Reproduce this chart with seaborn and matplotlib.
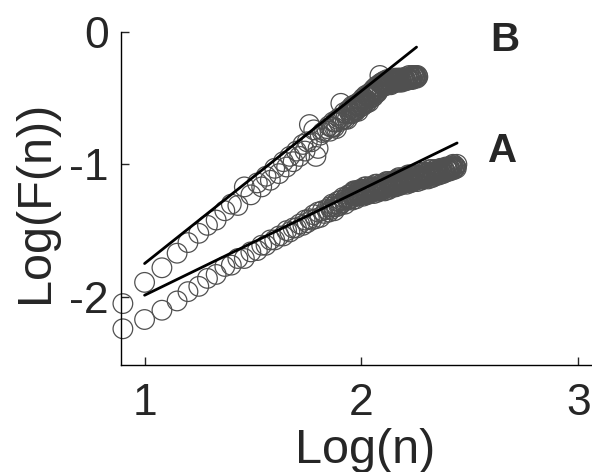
import matplotlib
matplotlib.use("Agg")
import matplotlib.pyplot as plt
import seaborn as sns

####################################################################################
## data (log10 of window size n, log10 of fluctuation F(n))
####################################################################################
log_n = [0.90, 1.00, 1.08, 1.15, 1.20, 1.25, 1.29, 1.33, 1.37, 1.40,
         1.43, 1.46, 1.49, 1.52, 1.54, 1.56, 1.58, 1.60, 1.62, 1.64,
         1.655, 1.67, 1.685, 1.70, 1.715, 1.73, 1.74, 1.75, 1.76, 1.77,
         1.78, 1.79, 1.80, 1.81, 1.82, 1.83, 1.84,
         1.850, 1.855, 1.860, 1.865, 1.870, 1.875, 1.880, 1.885, 1.890, 1.895,
         1.900, 1.905, 1.910, 1.915, 1.920, 1.925, 1.930, 1.935, 1.940, 1.945,
         1.950, 1.955, 1.960, 1.965, 1.970, 1.975, 1.980, 1.985, 1.990, 1.995,
         2.000, 2.005, 2.010, 2.015, 2.020, 2.025, 2.030, 2.035, 2.040, 2.045,
         2.050, 2.055, 2.060, 2.065, 2.070, 2.075, 2.080, 2.085, 2.090, 2.095,
         2.100, 2.105, 2.110, 2.115, 2.120, 2.125, 2.130, 2.135, 2.140, 2.145,
         2.150, 2.155, 2.160, 2.165, 2.170, 2.175, 2.180, 2.185, 2.190, 2.195,
         2.200, 2.205, 2.210, 2.215, 2.220, 2.225, 2.230, 2.235, 2.240, 2.245,
         2.250, 2.255, 2.260, 2.265, 2.270, 2.275, 2.280, 2.285, 2.290, 2.295,
         2.300, 2.305, 2.310, 2.315, 2.320, 2.325, 2.330, 2.335, 2.340, 2.345,
         2.350, 2.355, 2.360, 2.365, 2.370, 2.375, 2.380, 2.385, 2.390, 2.395,
         2.400, 2.405, 2.410, 2.415, 2.420, 2.425, 2.430, 2.435, 2.440]

# series B (upper curve), ends at log n = 2.26
log_f_b = [-2.05, -1.89, -1.78, -1.67, -1.59, -1.52, -1.46, -1.42, -1.35, -1.30,
           -1.31, -1.17, -1.23, -1.14, -1.17, -1.09, -1.12, -1.03, -1.07, -0.98,
           -1.02, -0.94, -0.98, -0.90, -0.94, -0.85, -0.90, -0.83, -0.70, -0.83,
           -0.74, -0.94, -0.88, -0.78, -0.76, -0.75, -0.73,
           -0.71, -0.75, -0.72, -0.72, -0.68, -0.72, -0.68, -0.73, -0.66, -0.68,
           -0.65, -0.54, -0.66, -0.66, -0.61, -0.66, -0.62, -0.66, -0.59, -0.61,
           -0.58, -0.62, -0.59, -0.59, -0.55, -0.59, -0.55, -0.60, -0.53, -0.55,
           -0.52, -0.56, -0.53, -0.53, -0.48, -0.53, -0.49, -0.53, -0.46, -0.48,
           -0.45, -0.49, -0.45, -0.46, -0.41, -0.45, -0.41, -0.33, -0.39, -0.40,
           -0.38, -0.41, -0.39, -0.39, -0.36, -0.39, -0.37, -0.40, -0.36, -0.37,
           -0.36, -0.38, -0.37, -0.37, -0.35, -0.37, -0.36, -0.38, -0.35, -0.36,
           -0.35, -0.37, -0.35, -0.36, -0.33, -0.36, -0.34, -0.36, -0.33, -0.34,
           -0.33, -0.35, -0.34]

# series A (lower curve), ends at log n = 2.44
log_f_a = [-2.24, -2.17, -2.10, -2.03, -1.96, -1.92, -1.86, -1.83, -1.77, -1.76,
           -1.71, -1.71, -1.66, -1.65, -1.61, -1.61, -1.57, -1.57, -1.54, -1.54,
           -1.50, -1.51, -1.48, -1.48, -1.45, -1.46, -1.42, -1.44, -1.41, -1.42,
           -1.38, -1.41, -1.36, -1.40, -1.35, -1.37, -1.34,
           -1.36, -1.32, -1.34, -1.30, -1.32, -1.35, -1.30, -1.32, -1.28, -1.31,
           -1.31, -1.27, -1.29, -1.25, -1.27, -1.30, -1.25, -1.27, -1.23, -1.26,
           -1.26, -1.22, -1.24, -1.20, -1.23, -1.26, -1.21, -1.23, -1.20, -1.22,
           -1.23, -1.19, -1.22, -1.17, -1.20, -1.23, -1.19, -1.21, -1.17, -1.20,
           -1.21, -1.17, -1.20, -1.15, -1.18, -1.21, -1.17, -1.19, -1.15, -1.18,
           -1.19, -1.15, -1.18, -1.13, -1.16, -1.19, -1.15, -1.16, -1.13, -1.16,
           -1.17, -1.12, -1.15, -1.11, -1.14, -1.16, -1.12, -1.14, -1.11, -1.13,
           -1.14, -1.10, -1.13, -1.08, -1.11, -1.14, -1.10, -1.12, -1.08, -1.11,
           -1.12, -1.08, -1.11, -1.06, -1.09, -1.12, -1.08, -1.10, -1.06, -1.09,
           -1.10, -1.06, -1.09, -1.04, -1.07, -1.10, -1.06, -1.08, -1.04, -1.07,
           -1.07, -1.04, -1.06, -1.03, -1.05, -1.07, -1.04, -1.05, -1.02, -1.04,
           -1.05, -1.02, -1.04, -1.01, -1.02, -1.04, -1.01, -1.02, -1.00]

# the long windows in between (the dense, solid-looking part of both curves)
log_n_mid = [1.9525, 1.9575, 1.9625, 1.9675, 1.9725, 1.9775, 1.9825, 1.9875, 1.9925, 1.9975,
             2.0025, 2.0075, 2.0125, 2.0175, 2.0225, 2.0275, 2.0325, 2.0375, 2.0425, 2.0475,
             2.0525, 2.0575, 2.0625, 2.0675, 2.0725, 2.0775, 2.0825, 2.0875, 2.0925, 2.0975,
             2.1025, 2.1075, 2.1125, 2.1175, 2.1225, 2.1275, 2.1325, 2.1375, 2.1425, 2.1475,
             2.1525, 2.1575, 2.1625, 2.1675, 2.1725, 2.1775, 2.1825, 2.1875, 2.1925, 2.1975,
             2.2025, 2.2075, 2.2125, 2.2175, 2.2225, 2.2275, 2.2325, 2.2375, 2.2425, 2.2475,
             2.2525, 2.2575, 2.2625, 2.2675, 2.2725, 2.2775, 2.2825, 2.2875, 2.2925, 2.2975,
             2.3025, 2.3075, 2.3125, 2.3175, 2.3225, 2.3275, 2.3325, 2.3375, 2.3425, 2.3475,
             2.3525, 2.3575, 2.3625, 2.3675, 2.3725, 2.3775, 2.3825, 2.3875, 2.3925, 2.3975,
             2.4025, 2.4075, 2.4125, 2.4175, 2.4225, 2.4275, 2.4325, 2.4375]

log_f_b_mid = [-0.61, -0.56, -0.61, -0.57, -0.60, -0.55, -0.56, -0.54, -0.57, -0.53,
               -0.55, -0.50, -0.54, -0.51, -0.54, -0.48, -0.49, -0.47, -0.50, -0.46,
               -0.48, -0.43, -0.47, -0.43, -0.46, -0.41, -0.42, -0.39, -0.42, -0.38,
               -0.40, -0.37, -0.40, -0.38, -0.40, -0.37, -0.38, -0.36, -0.39, -0.36,
               -0.37, -0.35, -0.38, -0.36, -0.38, -0.35, -0.36, -0.35, -0.37, -0.35,
               -0.36, -0.34, -0.36, -0.35, -0.36, -0.34, -0.35, -0.33, -0.35, -0.34,
               -0.34, -0.33]

log_f_a_mid = [-1.23, -1.27, -1.21, -1.24, -1.20, -1.24, -1.22, -1.24, -1.19, -1.22,
               -1.20, -1.24, -1.19, -1.21, -1.17, -1.22, -1.20, -1.22, -1.17, -1.20,
               -1.18, -1.22, -1.17, -1.19, -1.15, -1.20, -1.18, -1.20, -1.15, -1.18,
               -1.16, -1.20, -1.14, -1.17, -1.13, -1.18, -1.15, -1.17, -1.13, -1.16,
               -1.13, -1.17, -1.12, -1.15, -1.10, -1.15, -1.13, -1.15, -1.10, -1.13,
               -1.11, -1.15, -1.10, -1.12, -1.08, -1.13, -1.11, -1.13, -1.08, -1.11,
               -1.09, -1.13, -1.08, -1.10, -1.06, -1.11, -1.09, -1.11, -1.06, -1.09,
               -1.07, -1.11, -1.06, -1.08, -1.04, -1.09, -1.07, -1.09, -1.04, -1.07,
               -1.05, -1.08, -1.04, -1.06, -1.03, -1.06, -1.04, -1.06, -1.03, -1.04,
               -1.03, -1.05, -1.02, -1.03, -1.00, -1.03, -1.02, -1.03]

# fitted straight lines (end points)
fit_b_x = [1.00, 2.254]
fit_b_y = [-1.748, -0.116]
fit_a_x = [1.00, 2.441]
fit_a_y = [-1.987, -0.839]

x_ticks = [1, 2, 3]
y_ticks = [0, -1, -2]

####################################################################################
## plot
####################################################################################
sns.set_style("ticks")
plt.rcParams["font.family"] = ["Liberation Sans", "DejaVu Sans"]
plt.rcParams["axes.unicode_minus"] = False

fig = plt.figure(figsize=(5.92, 4.72), dpi=100)
ax = fig.add_axes([0.2052, 0.2267, 0.7948, 0.7061])

circle_kw = dict(s=200, marker="o", facecolors="none", edgecolors="#505050",
                 linewidths=0.9, clip_on=False, legend=False, zorder=2)
sns.scatterplot(x=log_n[:len(log_f_b)], y=log_f_b, ax=ax, **circle_kw)
sns.scatterplot(x=log_n_mid[:len(log_f_b_mid)], y=log_f_b_mid, ax=ax, **circle_kw)
sns.scatterplot(x=log_n[:len(log_f_a)], y=log_f_a, ax=ax, **circle_kw)
sns.scatterplot(x=log_n_mid[:len(log_f_a_mid)], y=log_f_a_mid, ax=ax, **circle_kw)

sns.lineplot(x=fit_b_x, y=fit_b_y, ax=ax, color="black", linewidth=2.0, zorder=3)
sns.lineplot(x=fit_a_x, y=fit_a_y, ax=ax, color="black", linewidth=2.0, zorder=3)

ax.text(2.592, -0.065, "B", fontsize=29, fontweight="bold", va="center", ha="left")
ax.text(2.583, -0.902, "A", fontsize=29, fontweight="bold", va="center", ha="left")

ax.set_xlim(0.8935, 3.063)
ax.set_ylim(-2.513, 0)
ax.set_xticks(x_ticks)
ax.set_yticks(y_ticks)
ax.tick_params(direction="in", length=6, width=1, labelsize=32, pad=9)
ax.tick_params(axis="x", pad=13)
sns.despine(ax=ax)
for sp in ["left", "bottom"]:
    ax.spines[sp].set_linewidth(1.0)
    ax.spines[sp].set_color("black")

ax.set_xlabel("Log(n)", fontsize=35, labelpad=0)
ax.set_ylabel("Log(F(n))", fontsize=35, labelpad=0)
ax.xaxis.set_label_coords(0.5175, -0.19)
ax.yaxis.set_label_coords(-0.135, 0.49)

fig.savefig("out.png", dpi=100)
